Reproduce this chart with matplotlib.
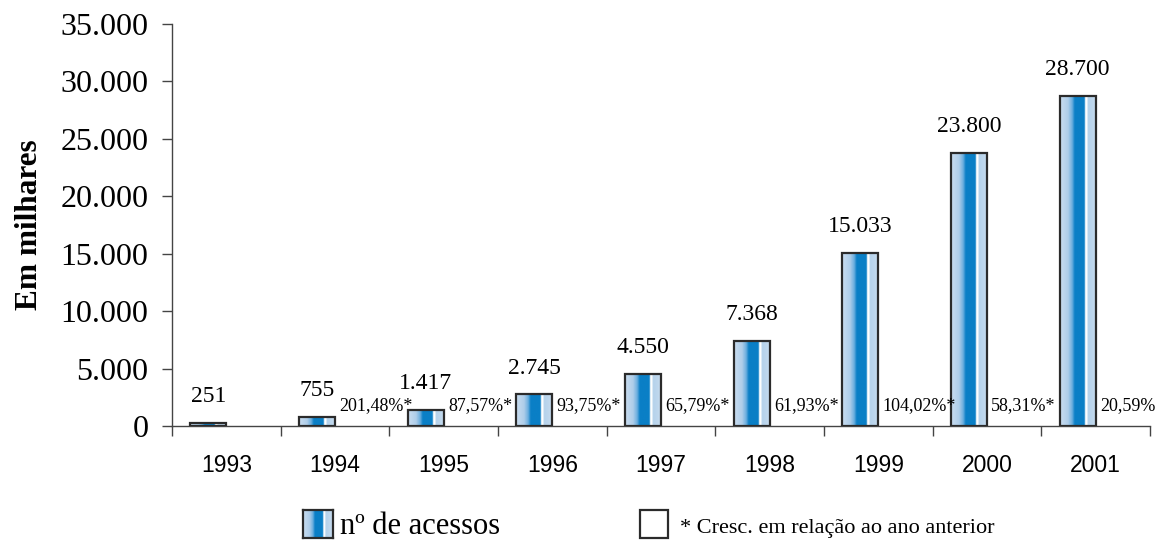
import numpy as np
import matplotlib
matplotlib.use('Agg')
import matplotlib.pyplot as plt
from matplotlib.colors import LinearSegmentedColormap
from matplotlib.patches import Rectangle

# data
anos = ['1993', '1994', '1995', '1996', '1997', '1998', '1999', '2000', '2001']
acessos = [251, 755, 1417, 2745, 4550, 7368, 15033, 23800, 28700]
acessos_txt = ['251', '755', '1.417', '2.745', '4.550', '7.368', '15.033', '23.800', '28.700']
cresc_txt = ['', '201,48%*', '87,57%*', '93,75%*', '65,79%*', '61,93%*', '104,02%*', '58,31%*', '20,59%']
y_ticks = [0, 5000, 10000, 15000, 20000, 25000, 30000, 35000]
y_tick_txt = ['0', '5.000', '10.000', '15.000', '20.000', '25.000', '30.000', '35.000']

SERIF = 'Liberation Serif'
SANS = 'Liberation Sans'
edge = '#2b2b2b'

# gradient used inside the bars
grad = LinearSegmentedColormap.from_list('barra', [
    (0.00, '#cadef0'), (0.22, '#aecde9'), (0.33, '#6aaedf'), (0.40, '#0a7fc6'),
    (0.66, '#0a7fc6'), (0.69, '#ffffff'), (0.73, '#ffffff'), (0.76, '#b4d2eb'),
    (1.00, '#c8dcef')])
grad_img = np.linspace(0, 1, 256).reshape(1, -1)

fig = plt.figure(figsize=(11.57, 5.42), dpi=100)
ax = fig.add_axes([0.1487, 0.214, 0.9940 - 0.1487, 0.9557 - 0.214])

x = np.arange(len(anos))
w = 0.333
bars = ax.bar(x - w, acessos, width=w, align='edge', facecolor='none',
              edgecolor=edge, linewidth=1.6, zorder=3)
for b in bars:
    bx, by = b.get_x(), b.get_y()
    im = ax.imshow(grad_img, cmap=grad, aspect='auto', interpolation='bilinear',
                   extent=(bx, bx + b.get_width(), by, by + b.get_height()), zorder=2)
    im.set_clip_path(b)

# value labels above bars
for b, t in zip(bars, acessos_txt):
    ax.annotate(t, (b.get_x() + b.get_width() / 2, b.get_height()),
                xytext=(0, 19), textcoords='offset points', ha='center', va='center',
                fontsize=17, family=SERIF)

# growth labels
for i, t in enumerate(cresc_txt):
    if t:
        ax.annotate(t, (x[i], 0), xytext=(3, 15), textcoords='offset points',
                    ha='left', va='center', fontsize=13, family=SERIF)

ax.set_xlim(-0.5, len(anos) - 0.5)
ax.set_ylim(0, 35000)
ax.set_yticks(y_ticks)
ax.set_yticklabels(y_tick_txt, fontsize=23, family=SERIF)
ax.set_xticks(x)
ax.set_xticklabels(anos, fontsize=16.5, family=SANS)
ax.set_xticks(np.arange(len(anos) + 1) - 0.5, minor=True)
ax.tick_params(axis='x', which='major', length=0, pad=20)
ax.tick_params(axis='x', which='minor', length=7, width=1, color='#444444', direction='out')
ax.tick_params(axis='y', length=7, width=1, color='#444444', direction='out', pad=10)
for s in ['top', 'right']:
    ax.spines[s].set_visible(False)
for s in ['left', 'bottom']:
    ax.spines[s].set_color('#444444')
    ax.spines[s].set_linewidth(1)

ax.set_ylabel('Em milhares', fontsize=22.5, family=SERIF, fontweight='bold', labelpad=12)

# legend drawn by hand
W, H = 1157.0, 542.0
lg1 = fig.add_axes([303 / W, 1 - 538 / H, 30 / W, 28 / H])
lg1.imshow(grad_img, cmap=grad, aspect='auto', interpolation='bilinear')
lg1.set_xticks([])
lg1.set_yticks([])
for s in lg1.spines.values():
    s.set_color(edge)
    s.set_linewidth(1.6)
fig.text(340 / W, 1 - 527 / H, 'nº de acessos', fontsize=22, family=SERIF, va='center')

fig.patches.append(Rectangle((640 / W, 1 - 538 / H), 28 / W, 28 / H, transform=fig.transFigure,
                             facecolor='white', edgecolor=edge, linewidth=1.6))
fig.text(680 / W, 1 - 528 / H, '* Cresc. em relação ao ano anterior', fontsize=16,
         family=SERIF, va='center')

fig.savefig('out.png', dpi=100)
